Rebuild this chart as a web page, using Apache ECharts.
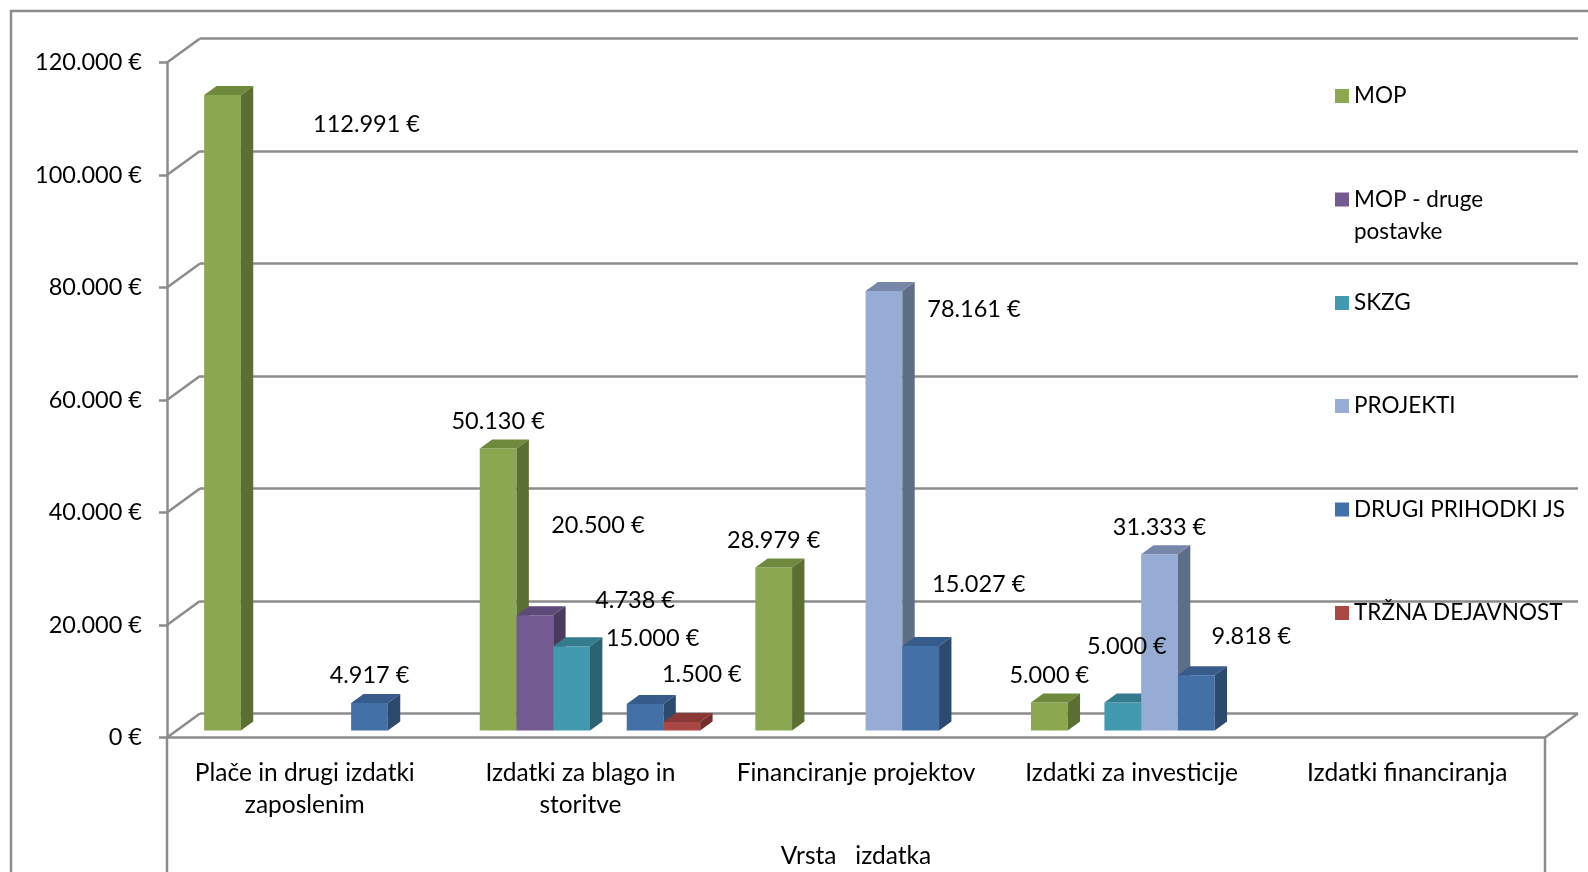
<!DOCTYPE html>
<html>
<head>
<meta charset="utf-8">
<title>Vrsta izdatka</title>
<script src="https://cdn.jsdelivr.net/npm/echarts@6.0.0/dist/echarts.min.js"></script>
<style>
  html, body { margin: 0; padding: 0; background: #fff; }
  #chart { width: 1588px; height: 872px; }
</style>
</head>
<body>
<div id="chart"></div>
<script>
const categories = [
  'Plače in drugi izdatki\nzaposlenim',
  'Izdatki za blago in\nstoritve',
  'Financiranje projektov',
  'Izdatki za investicije',
  'Izdatki financiranja',
]
const seriesNames = ['MOP', 'MOP - druge postavke', 'SKZG', 'PROJEKTI', 'DRUGI PRIHODKI JS', 'TRŽNA DEJAVNOST']

const mop = [112991, 50130, 28979, 5000, null]
const mopDruge = [null, 20500, null, null, null]
const skzg = [null, 15000, null, 5000, null]
const projekti = [null, null, 78161, 31333, null]
const drugiPrihodki = [4917, 4738, 15027, 9818, null]
const trznaDejavnost = [null, 1500, null, null, null]

const yTicks = [0, 20000, 40000, 60000, 80000, 100000, 120000]

const seriesValues = [mop, mopDruge, skzg, projekti, drugiPrihodki, trznaDejavnost]

// front / top / side faces of the 3d columns
const palette = [
  { front: '#8ba74f', top: '#6f8a3c', side: '#5c6f32' },
  { front: '#735a90', top: '#5e4a78', side: '#4b3a5f' },
  { front: '#419aaf', top: '#347c8d', side: '#2a6473' },
  { front: '#97acd4', top: '#7787a8', side: '#5f6e88' },
  { front: '#4470a8', top: '#375b8a', side: '#2c4a6e' },
  { front: '#a94744', top: '#8a3937', side: '#752e2c' },
]

const FONT = 'Lato, "Open Sans", sans-serif'
const LINE = '#8c8c8c'
const LW = 2.5

// floor depth in px, bars sit between BAR_FRONT and BAR_FRONT + BAR_DEPTH of it
const DEPTH_X = 33
const DEPTH_Y = -24
const BAR_FRONT = 0.29
const BAR_DEPTH = 0.375

const FRONT = { left: 167, right: 43, top: 62.5, bottom: 134.5 }

// data labels were moved by hand in the original
const labelShift = {
  '0-0': [144, 29], '1-1': [63, -90], '2-1': [81, -8], '2-3': [4, -56],
  '3-2': [90, 19], '4-1': [-10, -103], '4-2': [58, -62], '4-3': [55, -39], '5-1': [20, -48],
}

const legendCenters = [96, 199.5, 303, 406, 509.5, 613]

function euro(v) {
  return String(v).replace(/\B(?=(\d{3})+(?!\d))/g, '.') + ' €'
}

function barBox(api, cat, v, s) {
  const band = api.size([1, 0])[0]
  const w = band / 7.5
  const base = api.coord([cat, 0])
  const top = api.coord([cat, v])
  return {
    x: base[0] - band / 2 + (0.75 + s) * w + DEPTH_X * BAR_FRONT,
    w,
    yb: base[1] + DEPTH_Y * BAR_FRONT,
    yt: top[1] + DEPTH_Y * BAR_FRONT,
  }
}

function barItem(s) {
  return (params, api) => {
    const b = barBox(api, api.value(0), api.value(1), s)
    const dx = DEPTH_X * BAR_DEPTH
    const dy = DEPTH_Y * BAR_DEPTH
    const c = palette[s]
    const x1 = b.x + b.w
    return {
      type: 'group',
      children: [
        { type: 'rect', shape: { x: b.x, y: b.yt, width: b.w, height: b.yb - b.yt }, style: { fill: c.front } },
        {
          type: 'polygon',
          shape: { points: [[b.x, b.yt], [x1, b.yt], [x1 + dx, b.yt + dy], [b.x + dx, b.yt + dy]] },
          style: { fill: c.top },
        },
        {
          type: 'polygon',
          shape: { points: [[x1, b.yt], [x1 + dx, b.yt + dy], [x1 + dx, b.yb + dy], [x1, b.yb]] },
          style: { fill: c.side },
        },
      ],
    }
  }
}

const labelData = []
seriesValues.forEach((vals, s) => {
  vals.forEach((v, i) => {
    if (v != null) labelData.push([i, v, s])
  })
})

const chart = echarts.init(document.getElementById('chart'))
const W = chart.getWidth()
const H = chart.getHeight()

const barSeries = seriesValues.map((vals, s) => ({
  name: seriesNames[s],
  type: 'custom',
  xAxisIndex: 0,
  yAxisIndex: 0,
  clip: false,
  z: 3,
  itemStyle: { color: palette[s].front },
  renderItem: barItem(s),
  data: vals.map((v, i) => [i, v]).filter((d) => d[1] != null),
}))

chart.setOption({
  animation: false,
  grid: [
    { ...FRONT, outerBoundsMode: 'none' },
    {
      left: FRONT.left + DEPTH_X,
      right: FRONT.right - DEPTH_X,
      top: FRONT.top + DEPTH_Y,
      bottom: FRONT.bottom - DEPTH_Y,
      outerBoundsMode: 'none',
    },
  ],
  legend: seriesNames.map((name, i) => ({
    data: [name],
    left: 1335,
    top: legendCenters[i] - 13,
    padding: 0,
    icon: 'rect',
    itemWidth: 14,
    itemHeight: 14,
    selectedMode: false,
    formatter: (n) => (n === 'MOP - druge postavke' ? 'MOP - druge' : n),
    textStyle: { fontFamily: FONT, fontSize: 22.5, lineHeight: 26, color: '#000' },
  })),
  xAxis: [
    {
      type: 'category',
      gridIndex: 0,
      data: categories,
      name: 'Vrsta   izdatka',
      nameLocation: 'middle',
      nameGap: 106,
      nameTextStyle: { fontFamily: FONT, fontSize: 24.5, color: '#000' },
      axisLine: { lineStyle: { color: LINE, width: LW } },
      axisTick: { interval: 0, length: 84, lineStyle: { color: LINE, width: LW } },
      axisLabel: { interval: 0, margin: 20, fontFamily: FONT, fontSize: 24.5, lineHeight: 32, color: '#000' },
    },
    { type: 'category', gridIndex: 1, data: categories, show: false },
  ],
  yAxis: [
    {
      type: 'value',
      gridIndex: 0,
      min: 0,
      max: 120000,
      interval: 20000,
      axisLine: { show: true, lineStyle: { color: LINE, width: LW } },
      axisTick: { show: true, length: 8, lineStyle: { color: LINE, width: LW } },
      splitLine: { show: false },
      axisLabel: {
        margin: 25,
        padding: [3, 0, 0, 0],
        fontFamily: FONT,
        fontSize: 23.5,
        color: '#000',
        formatter: euro,
      },
    },
    {
      type: 'value',
      gridIndex: 1,
      min: 0,
      max: 120000,
      interval: 20000,
      axisLine: { show: false },
      axisTick: { show: false },
      axisLabel: { show: false },
      splitLine: { lineStyle: { color: LINE, width: LW } },
    },
  ],
  graphic: [
    { type: 'rect', shape: { x: 11, y: 11, width: W, height: H }, style: { fill: null, stroke: LINE, lineWidth: LW } },
    { type: 'line', shape: { x1: FRONT.left, y1: H - FRONT.bottom, x2: FRONT.left, y2: H }, style: { stroke: LINE, lineWidth: LW } },
    { type: 'line', shape: { x1: W - FRONT.right, y1: H - FRONT.bottom, x2: W - FRONT.right, y2: H }, style: { stroke: LINE, lineWidth: LW } },
    {
      type: 'text',
      left: 1354,
      top: legendCenters[1] + 21,
      style: { text: 'postavke', font: '22.5px ' + FONT, fill: '#000' },
    },
  ],
  series: [
    {
      type: 'custom',
      name: 'frame',
      xAxisIndex: 0,
      yAxisIndex: 0,
      clip: false,
      silent: true,
      z: 1,
      renderItem: (params, api) => {
        const cs = params.coordSys
        const v = api.value(1)
        const y = api.coord([0, v])[1]
        const children = [
          { type: 'line', shape: { x1: cs.x, y1: y, x2: cs.x + DEPTH_X, y2: y + DEPTH_Y }, style: { stroke: LINE, lineWidth: LW } },
        ]
        if (v === 0) {
          const xr = cs.x + cs.width
          children.push({ type: 'line', shape: { x1: xr, y1: y, x2: xr + DEPTH_X, y2: y + DEPTH_Y }, style: { stroke: LINE, lineWidth: LW } })
        }
        return { type: 'group', children }
      },
      data: yTicks.map((v) => [0, v]),
    },
    ...barSeries,
    {
      type: 'custom',
      name: 'labels',
      xAxisIndex: 0,
      yAxisIndex: 0,
      clip: false,
      silent: true,
      z: 10,
      renderItem: (params, api) => {
        const cat = api.value(0)
        const v = api.value(1)
        const s = api.value(2)
        const b = barBox(api, cat, v, s)
        const shift = labelShift[s + '-' + cat] || [0, -27]
        return {
          type: 'text',
          x: b.x + b.w / 2 + shift[0],
          y: b.yt + shift[1],
          style: { text: euro(v), font: '23.5px ' + FONT, fill: '#000', align: 'center', verticalAlign: 'middle' },
        }
      },
      data: labelData,
    },
  ],
})
</script>
</body>
</html>
